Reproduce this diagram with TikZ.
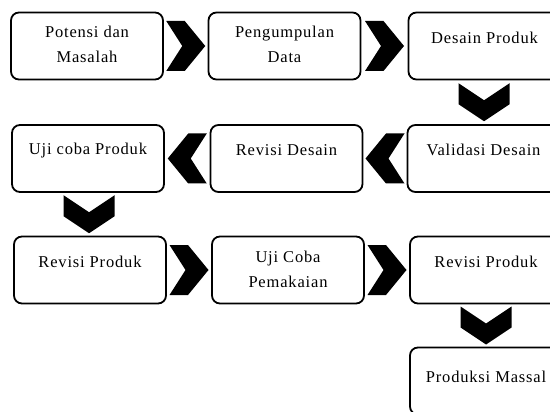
\documentclass[tikz,border=0pt]{standalone}
\usepackage{fontspec}
\setmainfont{Liberation Serif}[LetterSpace=5]
\usetikzlibrary{calc}
\begin{document}
\begin{tikzpicture}[x=1pt,y=-1pt,
  box/.style={draw=black,line width=1.8pt,rounded corners=8pt,minimum width=152pt,minimum height=67pt,inner sep=0pt},
  txt/.style={font=\fontsize{16.5}{24.5}\selectfont,align=center,inner sep=0pt},
  chevR/.pic={\fill[black] (-19.5,-25) -- (-1,-25) -- (19.5,0) -- (-1,25) -- (-19.5,25) -- (-3.5,0) -- cycle;},
  chevL/.pic={\fill[black] (19.5,-25) -- (1,-25) -- (-19.5,0) -- (1,25) -- (19.5,25) -- (3.5,0) -- cycle;},
  chevD/.pic={\fill[black] (-25.5,-19) -- (0,-2) -- (25.5,-19) -- (25.5,2) -- (0,19) -- (-25.5,2) -- cycle;}
]
\useasboundingbox (0,0) rectangle (550,412);
% row 1
\node[box] (b1) at (87,46) {};
\node[box] (b2) at (284.5,46) {};
\node[box] (b3) at (484.5,46) {};
% row 2
\node[box] (b4) at (88,158.5) {};
\node[box] (b5) at (286.5,158.5) {};
\node[box] (b6) at (483.5,158.5) {};
% row 3
\node[box] (b7) at (90,270) {};
\node[box] (b8) at (288,270) {};
\node[box] (b9) at (486,270) {};
% row 4
\node[box] (b10) at (486,381) {};
% texts
\node[txt] (t1) at ([yshift=-33pt]b1.north) {Potensi dan\\Masalah};
\node[txt] (t2) at ([yshift=-33pt]b2.north) {Pengumpulan\\Data};
\node[txt] (t3) at ([yshift=-26pt]b3.north) {Desain Produk};
\node[txt] (t4) at ([yshift=-26pt]b4.north) {Uji coba Produk};
\node[txt] (t5) at ([yshift=-26pt]b5.north) {Revisi Desain};
\node[txt] (t6) at ([yshift=-26pt]b6.north) {Validasi Desain};
\node[txt] (t7) at ([yshift=-26pt]b7.north) {Revisi Produk};
\node[txt] (t8) at ([yshift=-34pt]b8.north) {Uji Coba\\Pemakaian};
\node[txt] (t9) at ([yshift=-26pt]b9.north) {Revisi Produk};
\node[txt] (t10) at ([yshift=-30pt]b10.north) {Produksi Massal};
% chevrons
\pic at ($(b1.east)!0.5!(b2.west)$) {chevR};
\pic at ($(b2.east)!0.5!(b3.west)$) {chevR};
\pic at ($(b3.south)!0.5!(b6.north)$) {chevD};
\pic at ($(b6.west)!0.5!(b5.east)$) {chevL};
\pic at ($(b5.west)!0.5!(b4.east)$) {chevL};
\pic at ($(b4.south)!0.5!(b7.north)$) {chevD};
\pic at ($(b7.east)!0.5!(b8.west)$) {chevR};
\pic at ($(b8.east)!0.5!(b9.west)$) {chevR};
\pic at ($(b9.south)!0.5!(b10.north)$) {chevD};
\end{tikzpicture}
\end{document}
